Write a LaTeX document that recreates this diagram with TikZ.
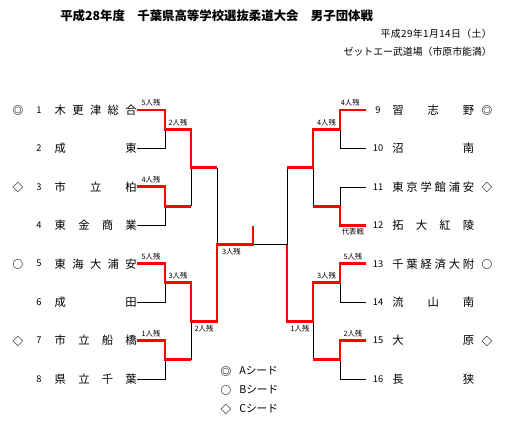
\documentclass[tikz,border=0pt]{standalone}
\usepackage{fontspec}
\setmainfont{Noto Sans CJK JP}
\usetikzlibrary{positioning, calc}

\newcommand\tn[1]{\makebox[61.5pt][s]{#1}}

\begin{document}
\begin{tikzpicture}[
    x=0.75pt, y=-0.75pt,
    team/.style={inner sep=0pt, font=\fontsize{8.5}{10}\selectfont, text height=7.5pt, text depth=1pt},
    num/.style={inner sep=0pt, minimum width=18pt, font=\fontsize{7}{8}\selectfont},
    seed/.style={inner sep=0pt, font=\fontsize{8}{9}\selectfont\bfseries},
    lgd/.style={inner sep=0pt, font=\fontsize{8}{9}\selectfont},
    lbl/.style={inner sep=1.5pt, font=\fontsize{5.5}{6}\selectfont},
    win/.style={draw=red, line width=2.2pt},
    lose/.style={draw=black, line width=0.6pt},
]
\useasboundingbox (0,0) rectangle (525,421);

% heading
\node[anchor=west, inner sep=0pt, font=\fontsize{9.3}{11}\selectfont\bfseries] (title) at (60,16) {平成28年度　千葉県高等学校選抜柔道大会　男子団体戦};
\node[anchor=east, inner sep=0pt, font=\fontsize{7.4}{9}\selectfont\addfontfeature{LetterSpace=4}] (date) at (492,34) {平成29年1月14日（土）};
\node[anchor=east, inner sep=0pt, font=\fontsize{7.4}{9}\selectfont] (venue) at (492,52) {ゼットエー武道場（市原市能満）};

% left teams
\node[seed] (s1) at (18,110) {◎};
\node[seed] (s3) at (18,187) {◇};
\node[seed] (s5) at (18,264) {○};
\node[seed] (s7) at (18,341) {◇};
\node[num] (k1) at (39,110) {1};
\node[num] (k2) at (39,148.4) {2};
\node[num] (k3) at (39,186.9) {3};
\node[num] (k4) at (39,225.3) {4};
\node[num] (k5) at (39,263.7) {5};
\node[num] (k6) at (39,302.1) {6};
\node[num] (k7) at (39,340.6) {7};
\node[num] (k8) at (39,379) {8};
\node[team, anchor=east] (n1) at (137,110) {\tn{木\hfill 更\hfill 津\hfill 総\hfill 合}};
\node[team, anchor=east] (n2) at (137,148.4) {\tn{成\hfill 東}};
\node[team, anchor=east] (n3) at (137,186.9) {\tn{市\hfill 立\hfill 柏}};
\node[team, anchor=east] (n4) at (137,225.3) {\tn{東\hfill 金\hfill 商\hfill 業}};
\node[team, anchor=east] (n5) at (137,263.7) {\tn{東\hfill 海\hfill 大\hfill 浦\hfill 安}};
\node[team, anchor=east] (n6) at (137,302.1) {\tn{成\hfill 田}};
\node[team, anchor=east] (n7) at (137,340.6) {\tn{市\hfill 立\hfill 船\hfill 橋}};
\node[team, anchor=east] (n8) at (137,379) {\tn{県\hfill 立\hfill 千\hfill 葉}};

% right teams
\node[num] (k9) at (378,110) {9};
\node[num] (k10) at (378,148.4) {10};
\node[num] (k11) at (378,186.9) {11};
\node[num] (k12) at (378,225.3) {12};
\node[num] (k13) at (378,263.7) {13};
\node[num] (k14) at (378,302.1) {14};
\node[num] (k15) at (378,340.6) {15};
\node[num] (k16) at (378,379) {16};
\node[team, anchor=west] (n9) at (392,110) {\tn{習\hfill 志\hfill 野}};
\node[team, anchor=west] (n10) at (392,148.4) {\tn{沼\hfill 南}};
\node[team, anchor=west] (n11) at (392,186.9) {\tn{東\hfill 京\hfill 学\hfill 館\hfill 浦\hfill 安}};
\node[team, anchor=west] (n12) at (392,225.3) {\tn{拓\hfill 大\hfill 紅\hfill 陵}};
\node[team, anchor=west] (n13) at (392,263.7) {\tn{千\hfill 葉\hfill 経\hfill 済\hfill 大\hfill 附}};
\node[team, anchor=west] (n14) at (392,302.1) {\tn{流\hfill 山\hfill 南}};
\node[team, anchor=west] (n15) at (392,340.6) {\tn{大\hfill 原}};
\node[team, anchor=west] (n16) at (392,379) {\tn{長\hfill 狭}};
\node[seed] (s9) at (487,110) {◎};
\node[seed] (s11) at (487,187) {◇};
\node[seed] (s13) at (487,264) {○};
\node[seed] (s15) at (487,341) {◇};

% junctions
\coordinate (m1) at (165,129.2);
\coordinate (m2) at (165,206.1);
\coordinate (m3) at (165,282.9);
\coordinate (m4) at (165,359.8);
\coordinate (q1) at (191,167.6);
\coordinate (q2) at (191,321.3);
\coordinate (sL) at (217,244.5);
\coordinate (f) at (253,244.5);
\coordinate (champ) at (253,226);
\coordinate (m5) at (340,129.2);
\coordinate (m6) at (340,206.1);
\coordinate (m7) at (340,282.9);
\coordinate (m8) at (340,359.8);
\coordinate (q3) at (313,167.6);
\coordinate (q4) at (313,321.3);
\coordinate (sR) at (287,244.5);

% left bracket
\draw[lose] (n2.east) -| (m1);
\draw[lose] (n4.east) -| (m2);
\draw[lose] (m2 -| q1) -- (q1);
\draw[lose] (q1 -| sL) -- (sL);
\draw[lose] (n6.east) -| (m3);
\draw[lose] (n8.east) -| (m4);
\draw[lose] (m4 -| q2) -- (q2);
\draw[lose] (f) -- (sR);
\draw[win] (n1.east) -- node[lbl, above]{5人残} (n1.east -| m1) -- (m1) -- node[lbl, above]{2人残} (m1 -| q1) -- (q1) -- (q1 -| sL);
\draw[win] (n3.east) -- node[lbl, above]{4人残} (n3.east -| m2) -- (m2) -- (m2 -| q1);
\draw[win] (n5.east) -- node[lbl, above]{5人残} (n5.east -| m3) -- (m3) -- node[lbl, above]{3人残} (m3 -| q2) -- (q2) -- node[lbl, below]{2人残} (q2 -| sL) -- (sL) -- node[lbl, below, pos=0.4]{3人残} (f) -- (champ);
\draw[win] (n7.east) -- node[lbl, above]{1人残} (n7.east -| m4) -- (m4) -- (m4 -| q2);

% right bracket
\draw[lose] (k10.west) -| (m5);
\draw[lose] (k11.west) -| (m6);
\draw[lose] (m6 -| q3) -- (q3);
\draw[lose] (q3 -| sR) -- (sR);
\draw[lose] (k14.west) -| (m7);
\draw[lose] (k16.west) -| (m8);
\draw[lose] (m8 -| q4) -- (q4);
\draw[win] (k9.west) -- node[lbl, above, pos=0.6]{4人残} (k9.west -| m5) -- (m5) -- node[lbl, above]{4人残} (m5 -| q3) -- (q3) -- (q3 -| sR);
\draw[win] (k12.west) -- node[lbl, below]{代表戦} (k12.west -| m6) -- (m6) -- (m6 -| q3);
\draw[win] (k13.west) -- node[lbl, above]{5人残} (k13.west -| m7) -- (m7) -- node[lbl, above]{3人残} (m7 -| q4) -- (q4) -- node[lbl, below]{1人残} (q4 -| sR) -- (sR);
\draw[win] (k15.west) -- node[lbl, above]{2人残} (k15.west -| m8) -- (m8) -- (m8 -| q4);

% legend
\node[seed] (la) at (226,371) {◎};
\node[seed] (lb) at (226,390) {○};
\node[seed] (lc) at (226,409) {◇};
\node[lgd, anchor=west] (ta) at (239,371) {Aシード};
\node[lgd, anchor=west] (tb) at (239,390) {Bシード};
\node[lgd, anchor=west] (tc) at (239,409) {Cシード};
\end{tikzpicture}
\end{document}
